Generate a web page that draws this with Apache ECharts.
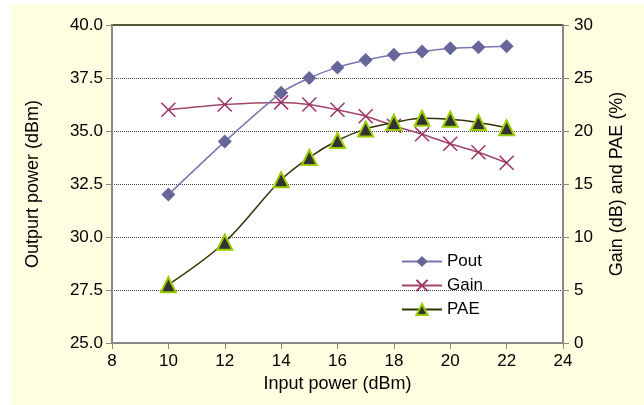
<!DOCTYPE html>
<html>
<head>
<meta charset="utf-8">
<script src="https://cdn.jsdelivr.net/npm/echarts@6/dist/echarts.min.js"></script>
<style>
html,body{margin:0;padding:0;background:#fff;}
#bg{position:absolute;left:10px;top:4px;width:634px;height:401px;background:#ffffe1;}
#main{position:absolute;left:0;top:0;width:644px;height:405px;}
</style>
</head>
<body>
<div id="bg"></div>
<div id="main"></div>
<script>
const inputPower = [10, 12, 14, 15, 16, 17, 18, 19, 20, 21, 22];
const pout = [32.0, 34.5, 36.8, 37.5, 38.0, 38.35, 38.6, 38.75, 38.9, 38.95, 39.0];
const gain = [22.0, 22.5, 22.7, 22.5, 22.0, 21.4, 20.5, 19.7, 18.8, 18.0, 17.0];
const pae = [5.5, 9.5, 15.4, 17.5, 19.1, 20.2, 20.8, 21.2, 21.1, 20.8, 20.3];

const zip = (xs, ys) => xs.map((x, i) => [x, ys[i]]);
const font = '"Liberation Sans", Arial, sans-serif';
const chart = echarts.init(document.getElementById('main'), null, {renderer: 'canvas'});

chart.setOption({
  backgroundColor: 'transparent',
  animation: false,
  textStyle: {fontFamily: font, color: '#000'},
  grid: {
    left: 112, right: 81, top: 25, bottom: 62,
    show: true, backgroundColor: '#ffffff', borderColor: '#5c5c2e', borderWidth: 2
  },
  legend: {
    orient: 'vertical', left: 396, top: 248,
    itemWidth: 40, itemHeight: 14, itemGap: 7,
    textStyle: {fontSize: 17, fontFamily: font, color: '#000'},
    data: ['Pout', 'Gain', 'PAE']
  },
  xAxis: {
    type: 'value', min: 8, max: 24, interval: 2,
    name: 'Input power (dBm)', nameLocation: 'middle', nameGap: 32,
    nameTextStyle: {fontSize: 18, fontFamily: font, color: '#000'},
    axisLine: {lineStyle: {color: '#888', width: 2}},
    axisTick: {show: true, length: 6, lineStyle: {color: '#888', width: 1}},
    axisLabel: {fontSize: 17, color: '#000', margin: 10},
    splitLine: {show: false}
  },
  yAxis: [
    {
      type: 'value', min: 25, max: 40, interval: 2.5, position: 'left',
      name: 'Outpurt power (dBm)', nameLocation: 'middle', nameGap: 70, nameRotate: 90,
      nameTextStyle: {fontSize: 18, fontFamily: font, color: '#000'},
      axisLine: {show: true, lineStyle: {color: '#888', width: 2}},
      axisTick: {show: true, length: 6, lineStyle: {color: '#888', width: 1}},
      axisLabel: {fontSize: 17, color: '#000', margin: 9, formatter: v => v.toFixed(1)},
      splitLine: {show: true, lineStyle: {color: '#444', type: 'dotted', width: 1}}
    },
    {
      type: 'value', min: 0, max: 30, interval: 5, position: 'right',
      name: 'Gain (dB) and PAE (%)', nameLocation: 'middle', nameGap: 45, nameRotate: 90,
      nameTextStyle: {fontSize: 18, fontFamily: font, color: '#000'},
      axisLine: {show: true, lineStyle: {color: '#888', width: 2}},
      axisTick: {show: true, length: 6, lineStyle: {color: '#888', width: 1}},
      axisLabel: {fontSize: 17, color: '#000', margin: 11},
      splitLine: {show: false}
    }
  ],
  series: [
    {
      name: 'Pout', type: 'line', yAxisIndex: 0, data: zip(inputPower, pout),
      smooth: 0.2, symbol: 'diamond', symbolSize: 14,
      itemStyle: {color: '#666699'},
      lineStyle: {color: '#7777b0', width: 1.5}, z: 3
    },
    {
      name: 'Gain', type: 'line', yAxisIndex: 1, data: zip(inputPower, gain),
      smooth: 0.3, symbol: 'path://M0,0L10,10M10,0L0,10', symbolSize: 14,
      itemStyle: {color: '#993366', borderColor: '#993366', borderWidth: 1.5},
      lineStyle: {color: '#a3446f', width: 1.5}, z: 2
    },
    {
      name: 'PAE', type: 'line', yAxisIndex: 1, data: zip(inputPower, pae),
      smooth: 0.35, symbol: 'triangle', symbolSize: 15,
      itemStyle: {color: '#333333', borderColor: '#99cc00', borderWidth: 2},
      lineStyle: {color: '#333300', width: 1.5}, z: 4
    }
  ]
});
</script>
</body>
</html>
